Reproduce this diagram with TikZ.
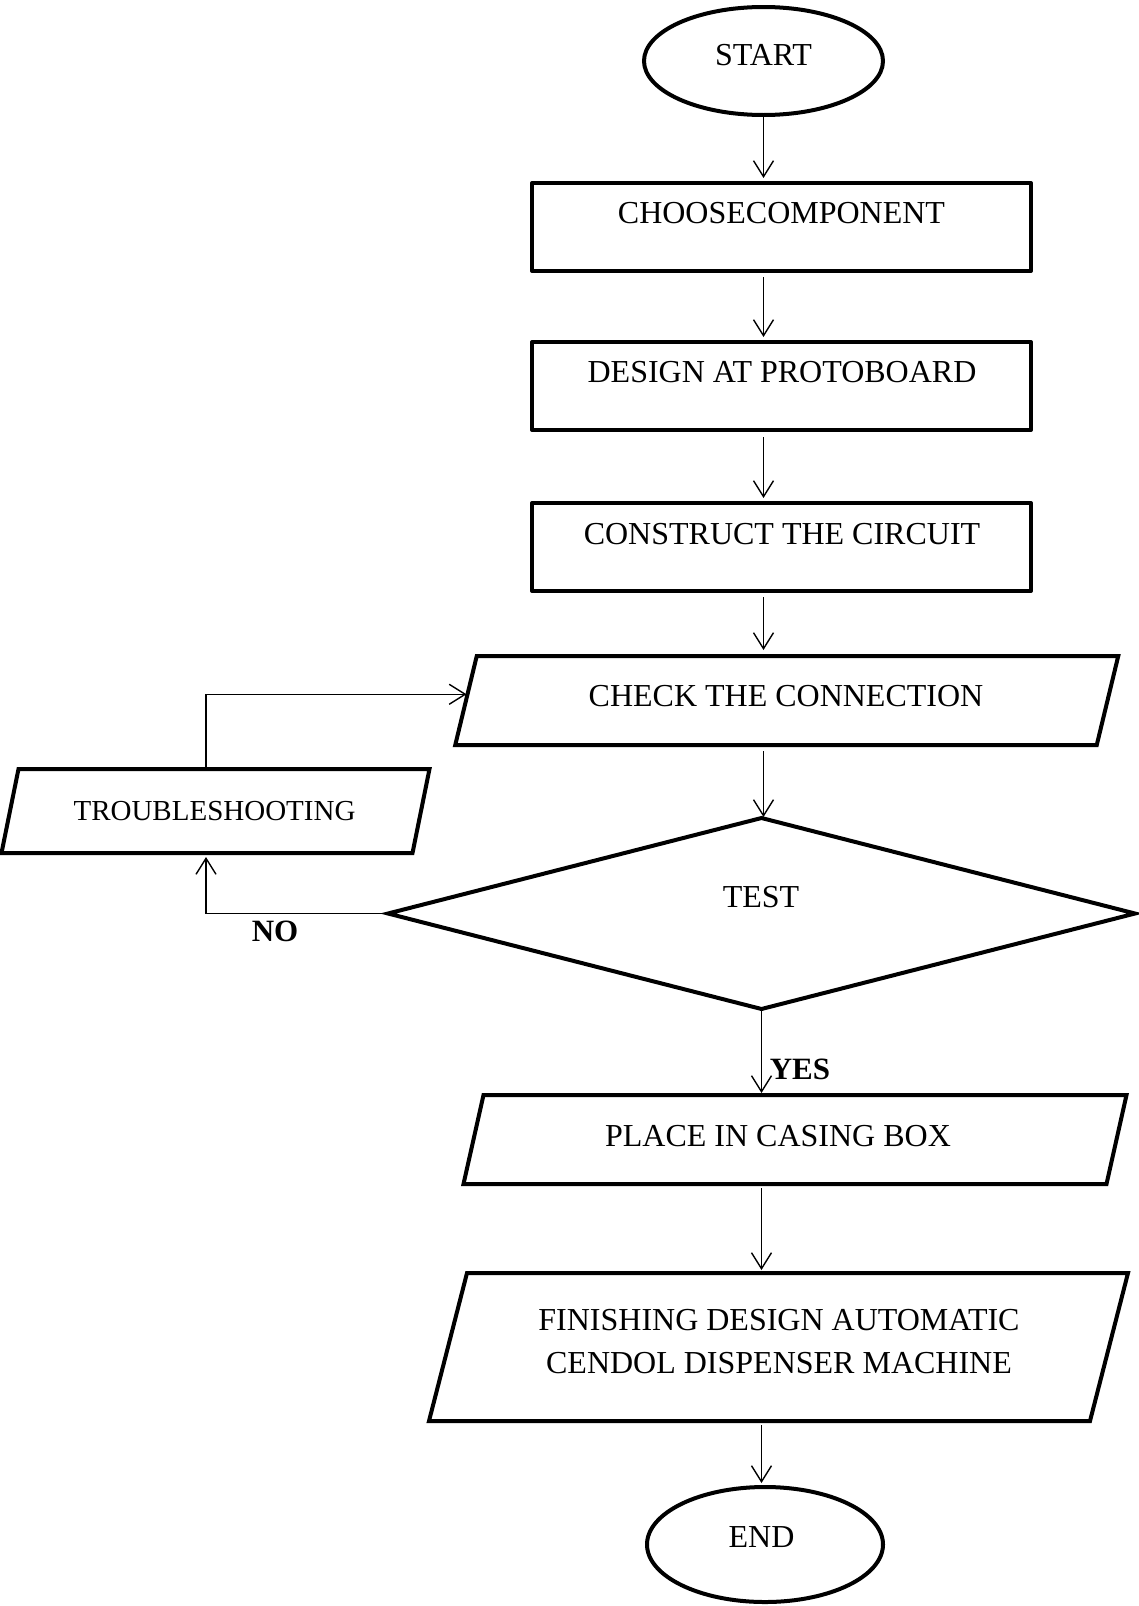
\documentclass[tikz,border=0pt]{standalone}
\usepackage{fontspec}
\setmainfont{Liberation Serif}
\usetikzlibrary{shapes.geometric,arrows.meta,calc}

% slanted input/output box drawn around a frame node: #1 node name, #2 half slant
\newcommand\slantbox[2]{%
  \draw[shapeline] ([xshift=#2]#1.north west) -- ([xshift=#2]#1.north east)
    -- ([xshift=-#2]#1.south east) -- ([xshift=-#2]#1.south west) -- cycle;}

\tikzset{
  shapeline/.style={line width=4pt},
  procbox/.style={draw, line width=4pt, line join=round, rectangle,
    minimum width=499pt, minimum height=88pt, inner sep=0pt},
  terminal/.style={draw, line width=4pt, ellipse, inner sep=0pt},
  frame/.style={rectangle, inner sep=0pt, outer sep=0pt},
  decision/.style={draw, line width=4pt, diamond, inner sep=0pt, outer sep=0pt},
  conn/.style={line width=1.4pt, -{Straight Barb[length=16pt,width=20pt]}},
  lbl/.style={inner sep=0pt, anchor=base, font=\fontsize{32pt}{40pt}\selectfont},
  lblsmall/.style={inner sep=0pt, anchor=base, font=\fontsize{29pt}{36pt}\selectfont},
  flag/.style={inner sep=0pt, anchor=base, font=\fontsize{31pt}{38pt}\selectfont\bfseries},
}

\begin{document}
\begin{tikzpicture}[x=1pt, y=-1pt]
  \fill[white] (0,0) rectangle (1138,1606);
  \useasboundingbox (0,0) rectangle (1138,1606);

  % shapes
  \node[terminal, minimum width=239pt, minimum height=108pt] (start) at (763.5,61) {};
  \node[procbox] (choose)    at (781.5,227) {};
  \node[procbox] (design)    at (781.5,386) {};
  \node[procbox] (construct) at (781.5,547) {};
  \node[frame, minimum width=641.5pt, minimum height=89pt] (check) at (786.75,700.5) {};
  \slantbox{check}{10.75pt}
  \node[frame, minimum width=411pt, minimum height=84pt] (trouble) at (215.5,811) {};
  \slantbox{trouble}{8.5pt}
  \node[decision, minimum width=747pt, minimum height=191pt] (test) at (761.5,913.5) {};
  \node[frame, minimum width=643pt, minimum height=89pt] (place) at (795,1139.5) {};
  \slantbox{place}{10pt}
  \node[frame, minimum width=661pt, minimum height=148pt] (finish) at (778.5,1347) {};
  \slantbox{finish}{19pt}
  \node[terminal, minimum width=236pt, minimum height=115pt] (end) at (765,1544.5) {};

  % texts
  \node[lbl] (startT)     at (763.5,65)  {START};
  \node[lbl] (chooseT)    at (781.5,223) {CHOOSECOMPONENT};
  \node[lbl] (designT)    at (782,382)   {DESIGN AT PROTOBOARD};
  \node[lbl] (constructT) at (782,544)   {CONSTRUCT THE CIRCUIT};
  \node[lbl] (checkT)     at (786,706)   {CHECK THE CONNECTION};
  \node[lblsmall] (troubleT) at (214.5,820) {TROUBLESHOOTING};
  \node[lbl] (testT)      at (761,907)   {TEST};
  \node[lbl] (placeT)     at (778,1146)  {PLACE IN CASING BOX};
  \node[lbl] (finishTa)   at (779,1330)  {FINISHING DESIGN AUTOMATIC};
  \node[lbl] (finishTb)   at (779,1373)  {CENDOL DISPENSER MACHINE};
  \node[lbl] (endT)       at (761.5,1547) {END};
  \node[flag] (noT)  at (275,941)  {NO};
  \node[flag] (yesT) at (800,1079) {YES};

  % helper points for the loop
  \coordinate (loop) at (206,0);
  \coordinate (checkW) at ($([xshift=10.75pt]check.north west)!0.43!([xshift=-10.75pt]check.south west)$);

  % main flow
  \draw[conn, shorten >=3pt] (start.south) -- (start.south |- choose.north);
  \draw[conn, shorten <=4pt, shorten >=3pt] (start.south |- choose.south) -- (start.south |- design.north);
  \draw[conn, shorten <=5pt, shorten >=3pt] (start.south |- design.south) -- (start.south |- construct.north);
  \draw[conn, shorten <=4pt, shorten >=6pt] (start.south |- construct.south) -- (start.south |- check.north);
  \draw[conn, shorten <=6pt, shorten >=1pt] (start.south |- check.south) -- (start.south |- test.north);
  \draw[conn, shorten >=2pt] (test.south) -- (test.south |- place.north);
  \draw[conn, shorten <=4pt, shorten >=3pt] (test.south |- place.south) -- (test.south |- finish.north);
  \draw[conn, shorten <=4pt, shorten >=2pt] (test.south |- finish.south) -- (test.south |- end.north);

  % failure loop
  \draw[conn, shorten >=4pt] (test.west) -| (loop |- trouble.south);
  \draw[conn, shorten >=1pt] (loop |- trouble.north) |- (checkW);
\end{tikzpicture}
\end{document}
